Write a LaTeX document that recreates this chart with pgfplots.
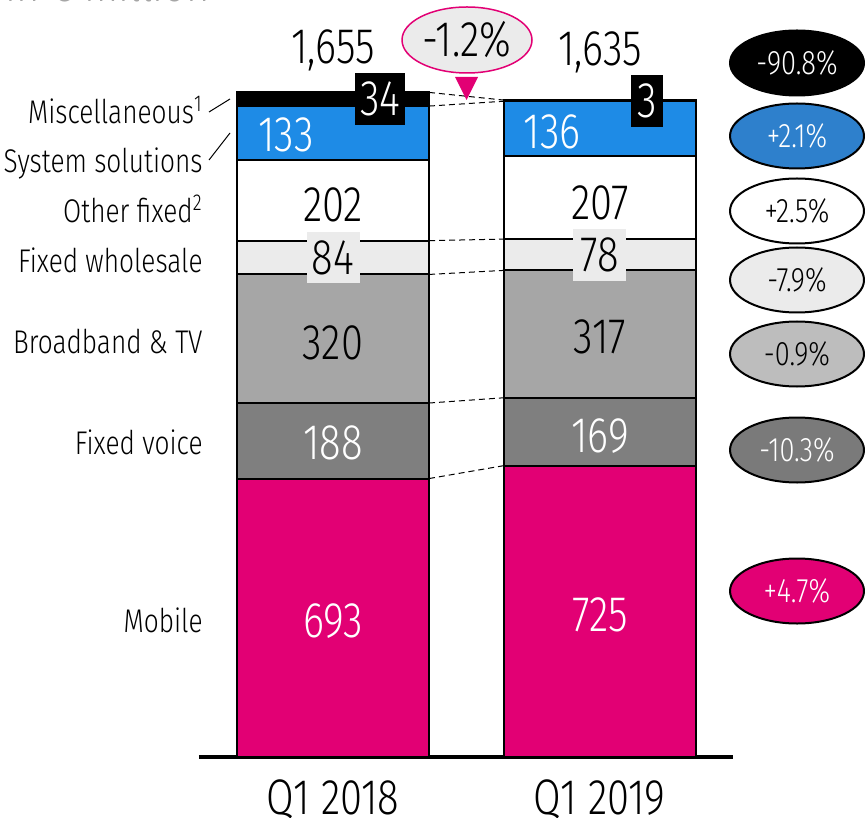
\documentclass[border=0pt]{standalone}
\usepackage{fontspec}
\setmainfont{Fira Sans}[UprightFont=* Light, FakeStretch=0.8]
\usepackage{pgfplots}
\pgfplotsset{compat=1.18}
\usetikzlibrary{shapes.geometric}
\definecolor{tmag}{HTML}{E20074}
\definecolor{sysblue}{HTML}{1E8BE6}
\definecolor{ellblue}{HTML}{2E80CC}
\definecolor{fwhole}{HTML}{EBEBEB}
\definecolor{bbtv}{HTML}{A6A6A6}
\definecolor{fvoice}{HTML}{7F7F7F}
\definecolor{ellbb}{HTML}{BDBDBD}
\definecolor{ellfv}{HTML}{7A7A7A}
\definecolor{hdrgray}{HTML}{A6A6A6}
\newcommand\bigf{\fontsize{25}{28}\selectfont}
\newcommand\medf{\fontsize{16.4}{19}\selectfont}
\newcommand\ellf{\fontsize{17}{20}\selectfont}
\tikzset{conn/.style={dash pattern=on 3pt off 2pt, line width=0.5pt}}
\begin{document}
\begin{tikzpicture}
\useasboundingbox (0,0) rectangle (432.5pt,-408.5pt);
\begin{axis}[
  at={(166.5pt,-378.5pt)}, anchor=origin,
  x=133.25pt, y=0.2009pt,
  xmin=-0.503, xmax=1.501, ymin=0, ymax=1884,
  axis x line=bottom, axis y line=none,
  x axis line style={-, line width=1.75pt},
  xtick={0,1}, xticklabels={Q1 2018,Q1 2019},
  major tick length=0pt,
  xticklabel style={font=\bigf, anchor=base, yshift=-28.5pt, inner sep=0pt},
  ybar stacked, bar width=0.7205,
  clip=false,
  every axis plot/.append style={draw=black, line width=1pt},
]
\addplot[fill=tmag] coordinates {(0,693) (1,725)};
\addplot[fill=fvoice] coordinates {(0,188) (1,169)};
\addplot[fill=bbtv] coordinates {(0,320) (1,317)};
\addplot[fill=fwhole] coordinates {(0,84) (1,78)};
\addplot[fill=white] coordinates {(0,202) (1,207)};
\addplot[fill=sysblue] coordinates {(0,133) (1,136)};
\addplot[fill=black] coordinates {(0,34) (1,3)};
\draw[conn] (axis cs:0.36025,693) -- (axis cs:0.63975,725);
\draw[conn] (axis cs:0.36025,881) -- (axis cs:0.63975,894);
\draw[conn] (axis cs:0.36025,1201) -- (axis cs:0.63975,1211);
\draw[conn] (axis cs:0.36025,1285) -- (axis cs:0.63975,1289);
\draw[conn] (axis cs:0.36025,1620) -- (axis cs:0.63975,1632);
\draw[conn] (axis cs:0.36025,1654) -- (axis cs:0.63975,1635);
\end{axis}
\begin{scope}[x=0.5pt,y=-0.5pt]
% header (cut off at the top)
\node[anchor=base west, text=hdrgray, font=\bigf, inner sep=0pt] at (5,2) {in € million};
% totals
\node[font=\bigf] at (333,50) {1,655};
\node[font=\bigf] at (600,52) {1,635};
% change bubble
\node[ellipse, draw=tmag, fill=fwhole, line width=0.75pt, minimum width=65pt, minimum height=33pt, inner sep=0pt, font=\bigf] at (467,40) {-1.2\%};
\fill[tmag] (455,77) -- (478,77) -- (466.5,100) -- cycle;
% bar 1 labels
\node[fill=black, text=white, font=\bigf, minimum width=25pt, minimum height=26pt, inner sep=0pt] at (380,99) {34};
\node[text=white, font=\bigf] at (286,135) {133};
\node[font=\bigf] at (333,205) {202};
\node[fill=fwhole, font=\bigf, minimum width=26.5pt, minimum height=25.5pt, inner sep=0pt] at (333,257.5) {84};
\node[font=\bigf] at (333,343) {320};
\node[text=white, font=\bigf] at (333,443) {188};
\node[text=white, font=\bigf] at (333,621) {693};
% bar 2 labels
\node[fill=black, text=white, font=\bigf, minimum width=16pt, minimum height=26pt, inner sep=0pt] at (647,101) {3};
\node[text=white, font=\bigf] at (552,132) {136};
\node[font=\bigf] at (600,203) {207};
\node[fill=fwhole, font=\bigf, minimum width=26.5pt, minimum height=26pt, inner sep=0pt] at (599.5,255) {78};
\node[font=\bigf] at (600,337) {317};
\node[text=white, font=\bigf] at (600,436) {169};
\node[text=white, font=\bigf] at (600,615) {725};
% category labels
\node[anchor=base east, font=\medf, inner sep=0pt] at (203,124) {Miscellaneous\textsuperscript{1}};
\node[anchor=base east, font=\medf, inner sep=0pt] at (203,173) {System solutions};
\node[anchor=base east, font=\medf, inner sep=0pt] at (203,223) {Other fixed\textsuperscript{2}};
\node[anchor=base east, font=\medf, inner sep=0pt] at (203,273) {Fixed wholesale};
\node[anchor=base east, font=\medf, inner sep=0pt] at (203,353) {Broadband \& TV};
\node[anchor=base east, font=\medf, inner sep=0pt] at (203,454) {Fixed voice};
\node[anchor=base east, font=\medf, inner sep=0pt] at (203,632) {Mobile};
\draw[line width=0.5pt] (209,112) -- (230,99);
\draw[line width=0.5pt] (209,160) -- (230,133);
% change ellipses
\tikzset{chg/.style={ellipse, draw=black, line width=1pt, minimum width=67pt, minimum height=32.5pt, inner sep=0pt, font=\ellf}}
\node[chg, fill=black, text=white] at (797,63) {-90.8\%};
\node[chg, fill=ellblue, text=white] at (797,136) {+2.1\%};
\node[chg, fill=white] at (797,211) {+2.5\%};
\node[chg, fill=fwhole] at (797,280) {-7.9\%};
\node[chg, fill=ellbb] at (797,354) {-0.9\%};
\node[chg, fill=ellfv, text=white] at (797,450) {-10.3\%};
\node[chg, fill=tmag, text=white] at (797,591) {+4.7\%};
\end{scope}
\end{tikzpicture}
\end{document}
